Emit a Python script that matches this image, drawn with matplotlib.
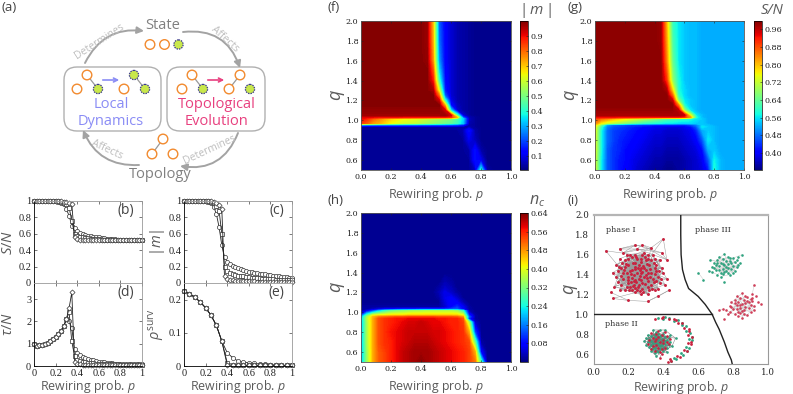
import matplotlib
matplotlib.use("Agg")
import matplotlib.pyplot as plt
from matplotlib.cm import ScalarMappable
from matplotlib.colors import Normalize
from matplotlib.patches import Circle, FancyBboxPatch, FancyArrowPatch
from matplotlib.ticker import FormatStrFormatter
import numpy as np

plt.rcParams['font.family'] = ['Open Sans', 'DejaVu Sans']
plt.rcParams['mathtext.fontset'] = 'custom'
plt.rcParams['mathtext.it'] = 'Open Sans:italic'
plt.rcParams['mathtext.rm'] = 'Open Sans'

W, H = 793, 394
GREY = '#5a5a5a'

# ---- line panels
p_line = [i / 40 for i in range(41)]
p_surv = [i / 20 for i in range(21)]

S_circle = [1]*8 + [.995, .99, .98, .96, .90, .82, .70, .665, .63, .61, .595, .585, .575, .57, .565, .56, .555, .55, .545, .54, .54, .535, .535, .53, .53, .53, .525, .525, .525, .52, .52, .52, .52]
S_square = [1]*9 + [.995, .99, .98, .96, .92, .76, .60, .575, .565, .555, .55, .545, .54, .54, .535, .535, .53, .53, .53, .525, .525, .525, .525] + [.52]*9
S_diamond = [1]*10 + [.995, .99, .985, .975, .96, .56, .535, .53, .53, .525, .525, .525] + [.52]*19

m_circle = [1]*8 + [.995, .99, .97, .93, .84, .68, .46, .32, .26, .23, .21, .195, .18, .17, .16, .15, .14, .13, .125, .12, .115, .11, .105, .10, .095, .09, .085, .08, .075, .07, .07, .065, .06]
m_square = [1]*9 + [.995, .99, .98, .94, .88, .60, .20, .15, .125, .11, .10, .09, .085, .08, .075, .07, .065, .06, .058, .055, .052, .05, .048, .046, .044, .042, .04, .04, .038, .036, .034, .033]
m_diamond = [1]*10 + [.995, .99, .97, .95, .90, .08, .05, .04, .035, .03, .028, .026, .024, .022, .02, .02, .02, .018, .018, .018, .016, .016, .016, .015, .015, .015, .015, .015, .015, .015, .015]

tau_base = [1.0, .9, .92, .95, 1.0, 1.05, 1.12, 1.2, 1.3, 1.42, 1.58, 1.78, 2.1]
tau_circle = tau_base + [2.0, 1.7, .75, .6, .5, .42, .37, .32, .28, .25, .22, .2, .18, .16, .145, .13, .12, .11, .105, .1, .095, .09, .085, .08, .078, .075, .072, .07]
tau_square = tau_base + [2.4, 1.1, .45, .28, .23, .2, .17, .15, .13, .12, .11, .1, .09, .085, .08, .075, .072, .07, .068, .065, .062, .06, .058, .055, .054, .052, .05, .05]
tau_diamond = tau_base + [2.6, 3.3, .2, .08, .07, .06, .055, .05, .05, .045, .045, .04, .04, .04, .04, .04, .04, .04, .04, .04, .04, .04, .04, .04, .04, .04, .04, .04]

surv_base = [.225, .217, .207, .193, .175, .153, .122, .075]
surv_circle = surv_base + [.04, .025, .015, .012, .01, .008, .006, .005, .004, .003, .002, .002, .002]
surv_square = surv_base + [.01, .004, .003, .003, .002, .002, .002, .002, .002, .002, .002, .002, .002]
surv_diamond = surv_base + [.003, .002, .002, .002, .002, .002, .002, .002, .002, .002, .002, .002, .002]

# ---- heatmaps, hundredths, rows follow heat_q, columns follow heat_p
heat_p = [i * 0.04 for i in range(26)]
heat_q = [2.0, 1.8, 1.6, 1.5, 1.4, 1.3, 1.25, 1.2, 1.15, 1.1, 1.05, 1.03, 1.015, .97, .955, .935, .9, .8, .7, .6, .5]

m_map = [
    [99]*11 + [97, 70, 22, 12, 8, 5, 4, 3, 2, 2, 2, 2, 2, 2, 2],
    [99]*11 + [97, 72, 24, 12, 8, 5, 4, 3, 2, 2, 2, 2, 2, 2, 2],
    [99]*11 + [98, 75, 28, 12, 8, 5, 4, 3, 2, 2, 2, 2, 2, 2, 2],
    [99]*12 + [82, 34, 13, 8, 5, 4, 3, 2, 2, 2, 2, 2, 2, 2],
    [99]*12 + [88, 42, 14, 8, 5, 4, 3, 2, 2, 2, 2, 2, 2, 2],
    [99]*12 + [96, 62, 16, 8, 5, 4, 3, 2, 2, 2, 2, 2, 2, 2],
    [99]*13 + [78, 22, 8, 5, 4, 3, 2, 2, 2, 2, 2, 2, 2],
    [99]*13 + [92, 40, 10, 5, 4, 3, 2, 2, 2, 2, 2, 2, 2],
    [99]*14 + [72, 14, 6, 4, 3, 2, 2, 2, 2, 2, 2, 2],
    [98]*14 + [92, 35, 8, 4, 3, 2, 2, 2, 2, 2, 2, 2],
    [97]*15 + [92, 45, 8, 3, 2, 2, 2, 2, 2, 2, 2],
    [90, 90, 89, 88, 88, 88, 88, 87, 87, 87, 87, 87, 87, 87, 87, 85, 70, 20, 5, 3, 2, 2, 2, 2, 2, 2],
    [90, 86, 80, 76, 72, 68, 66, 64, 63, 62, 60, 58, 56, 54, 52, 50, 44, 34, 6, 3, 2, 2, 2, 2, 2, 2],
    [84, 80, 74, 72, 68, 64, 62, 60, 59, 58, 56, 54, 52, 50, 48, 46, 42, 32, 5, 3, 2, 2, 2, 2, 2, 2],
    [30, 28, 27, 26, 26, 25, 25, 24, 24, 24, 23, 23, 22, 22, 22, 21, 20, 16, 4, 3, 2, 2, 2, 2, 2, 2],
    [4]*18 + [5, 3, 2, 2, 2, 2, 2, 2],
    [3]*17 + [5, 14, 4, 2, 2, 2, 2, 2, 2],
    [3]*18 + [10, 6, 2, 2, 2, 2, 2, 2],
    [3]*18 + [4, 14, 4, 2, 2, 2, 2, 2],
    [3]*19 + [14, 10, 2, 2, 2, 2, 2],
    [3]*19 + [6, 38, 4, 2, 2, 2, 2],
]

S_map = [
    [99]*11 + [98, 80, 60, 56, 54, 53, 53, 52, 52, 52, 52, 52, 52, 52, 52],
    [99]*11 + [98, 82, 62, 56, 54, 53, 53, 52, 52, 52, 52, 52, 52, 52, 52],
    [99]*11 + [99, 84, 64, 56, 54, 53, 53, 52, 52, 52, 52, 52, 52, 52, 52],
    [99]*12 + [87, 66, 57, 54, 53, 53, 52, 52, 52, 52, 52, 52, 52, 52],
    [99]*12 + [90, 68, 58, 54, 53, 53, 52, 52, 52, 52, 52, 52, 52, 52],
    [99]*12 + [97, 78, 58, 55, 53, 53, 52, 52, 52, 52, 52, 52, 52, 52],
    [99]*13 + [86, 60, 55, 53, 53, 52, 52, 52, 52, 52, 52, 52, 52],
    [99]*13 + [95, 66, 56, 54, 53, 52, 52, 52, 52, 52, 52, 52, 52],
    [99]*14 + [84, 58, 54, 53, 52, 52, 52, 52, 52, 52, 52, 52],
    [98]*14 + [96, 68, 56, 53, 52, 52, 52, 52, 52, 52, 52, 52],
    [97]*15 + [95, 74, 56, 53, 52, 52, 52, 52, 52, 52, 52],
    [92, 92, 92, 92, 91, 91, 91, 91, 91, 91, 91, 91, 91, 91, 91, 89, 82, 58, 53, 52, 52, 52, 52, 52, 52, 52],
    [88, 85, 83, 80, 78, 76, 74, 72, 70, 68, 66, 64, 62, 61, 60, 59, 58, 56, 54, 52, 52, 52, 52, 52, 52, 52],
    [84, 76, 72, 70, 68, 66, 64, 62, 60, 59, 58, 57, 56, 56, 55, 55, 55, 54, 54, 52, 52, 52, 52, 52, 52, 52],
    [78, 66, 52, 48, 47, 46, 45, 45, 44, 44, 43, 43, 43, 43, 43, 43, 45, 49, 54, 53, 52, 52, 52, 52, 52, 52],
    [76, 60, 49, 46, 45, 44, 43, 42, 41, 40, 39, 39, 38, 38, 38, 39, 41, 46, 56, 54, 53, 52, 52, 52, 52, 52],
    [75, 58, 48, 45, 44, 43, 42, 41, 40, 39, 38, 38, 37, 37, 37, 38, 39, 43, 52, 54, 53, 52, 52, 52, 52, 52],
    [74, 58, 48, 45, 43, 42, 41, 40, 39, 38, 37, 37, 36, 36, 36, 37, 38, 40, 46, 56, 53, 52, 52, 52, 52, 52],
    [74, 58, 47, 44, 43, 41, 40, 39, 38, 37, 36, 36, 35, 35, 35, 36, 37, 38, 41, 52, 54, 52, 52, 52, 52, 52],
    [73, 57, 47, 44, 42, 41, 39, 38, 37, 36, 35, 35, 34, 34, 34, 35, 36, 37, 39, 46, 57, 53, 52, 52, 52, 52],
    [73, 57, 47, 44, 42, 40, 39, 37, 36, 35, 34, 34, 33, 33, 34, 35, 36, 37, 38, 42, 58, 53, 52, 52, 52, 52],
]

nc_map = [
    [1]*26,
    [1]*26,
    [1]*26,
    [1]*26,
    [1]*26,
    [1]*14 + [3, 2] + [1]*10,
    [1]*13 + [2, 4, 3] + [1]*10,
    [1]*13 + [3, 6, 4, 2] + [1]*9,
    [1]*13 + [2, 6, 7, 4] + [1]*9,
    [1]*14 + [5, 8, 7, 3] + [1]*8,
    [2]*14 + [4, 8, 11, 7, 2] + [1]*7,
    [1, 2, 4, 6, 8, 9, 10, 11, 11, 11, 12, 12, 12, 12, 12, 13, 14, 8, 2] + [1]*7,
    [2, 6, 12, 20, 26, 30, 32, 33, 34, 35, 35, 36, 36, 36, 36, 36, 34, 26, 3] + [1]*7,
    [10, 28, 40, 42, 42, 43, 43, 43, 44, 44, 44, 44, 44, 44, 44, 44, 44, 40, 10, 2] + [1]*6,
    [17, 34, 45, 49, 50, 51, 52, 52, 53, 53, 53, 53, 53, 52, 52, 52, 51, 47, 14, 2] + [1]*6,
    [18, 36, 46, 53, 55, 56, 57, 57, 58, 58, 58, 58, 58, 57, 57, 56, 56, 52, 10, 2] + [1]*6,
    [18, 35, 46, 53, 55, 56, 57, 58, 59, 59, 60, 59, 58, 58, 57, 56, 56, 54, 35, 4] + [1]*6,
    [18, 35, 46, 53, 55, 57, 58, 59, 60, 60, 60, 60, 59, 59, 58, 57, 56, 55, 46, 12] + [1]*6,
    [18, 35, 46, 53, 55, 56, 58, 59, 60, 61, 61, 61, 60, 59, 58, 57, 56, 55, 53, 30, 2] + [1]*5,
    [18, 34, 46, 52, 54, 56, 58, 60, 61, 62, 62, 62, 61, 60, 59, 58, 57, 56, 54, 46, 8] + [1]*5,
    [18, 34, 46, 52, 54, 56, 58, 60, 61, 62, 63, 62, 61, 60, 59, 58, 57, 56, 54, 50, 28] + [1]*5,
]

# ---- phase diagram
bound_p = [.5, .5, .502, .51, .525, .545, .6, .64, .68, .70, .72, .75, .77, .79, .795]
bound_q = [2.0, 1.8, 1.6, 1.45, 1.35, 1.26, 1.18, 1.1, 1.0, .92, .85, .72, .62, .54, .5]

net_one = [(.25, 1.42), (.18, 1.55), (.31, 1.28), (.22, 1.24), (.36, 1.5), (.13, 1.38), (.28, 1.6), (.2, 1.32), (.33, 1.42), (.24, 1.52),
           (.16, 1.47), (.38, 1.32), (.27, 1.2), (.3, 1.55), (.19, 1.42), (.35, 1.25), (.23, 1.34), (.12, 1.28), (.29, 1.38), (.21, 1.6),
           (.34, 1.6), (.26, 1.3), (.15, 1.56), (.4, 1.42), (.24, 1.22), (.32, 1.5), (.18, 1.25), (.37, 1.38), (.27, 1.47), (.14, 1.44),
           (.22, 1.45), (.31, 1.34), (.2, 1.5), (.42, 1.36), (.28, 1.26), (.17, 1.36), (.35, 1.56), (.25, 1.56), (.11, 1.42), (.33, 1.3),
           (.23, 1.4), (.3, 1.45), (.19, 1.6), (.39, 1.47), (.26, 1.36), (.16, 1.3), (.36, 1.44), (.29, 1.62), (.21, 1.28), (.41, 1.3),
           (.24, 1.48), (.32, 1.24), (.18, 1.48), (.27, 1.42), (.13, 1.5), (.34, 1.36), (.22, 1.58), (.31, 1.6), (.28, 1.32), (.2, 1.38),
           (.37, 1.26), (.25, 1.25), (.15, 1.24), (.3, 1.4), (.23, 1.3), (.35, 1.47), (.26, 1.5), (.17, 1.42), (.33, 1.55), (.29, 1.47),
           (.19, 1.28), (.24, 1.35), (.38, 1.55), (.21, 1.44), (.31, 1.2), (.27, 1.56), (.14, 1.33), (.36, 1.34), (.22, 1.37), (.28, 1.43),
           (.235, 1.46), (.265, 1.39), (.215, 1.41), (.285, 1.49), (.305, 1.37), (.245, 1.33), (.195, 1.35), (.325, 1.46), (.255, 1.28), (.225, 1.52),
           (.295, 1.31), (.175, 1.45), (.345, 1.33), (.275, 1.53), (.205, 1.25), (.315, 1.42), (.235, 1.27), (.155, 1.39), (.355, 1.41), (.265, 1.45),
           (.185, 1.51), (.335, 1.26), (.245, 1.58), (.305, 1.51), (.215, 1.33), (.275, 1.35), (.165, 1.52), (.375, 1.44), (.225, 1.29), (.295, 1.58),
           (.255, 1.47), (.325, 1.38), (.195, 1.56), (.345, 1.52), (.285, 1.22), (.145, 1.48), (.385, 1.36), (.235, 1.6), (.265, 1.23), (.315, 1.56),
           (.07, 1.64), (.40, 1.76), (.33, 1.67), (.11, 1.16), (.2, 1.14), (.28, 1.7), (.43, 1.24), (.1, 1.22), (.42, 1.55), (.17, 1.62),
           (.25, 1.66), (.31, 1.13), (.15, 1.66), (.37, 1.18), (.24, 1.7), (.39, 1.62)]

net_green = [(.75, 1.5), (.71, 1.55), (.79, 1.46), (.73, 1.42), (.78, 1.57), (.68, 1.48), (.76, 1.44), (.81, 1.53), (.7, 1.45), (.74, 1.56),
             (.77, 1.51), (.72, 1.49), (.8, 1.42), (.75, 1.61), (.69, 1.52), (.83, 1.58), (.73, 1.38), (.78, 1.4), (.66, 1.44), (.76, 1.54),
             (.82, 1.48), (.71, 1.4), (.85, 1.6), (.74, 1.46), (.79, 1.52), (.72, 1.58), (.77, 1.47), (.63, 1.35), (.6, 1.42), (.75, 1.33),
             (.8, 1.57), (.7, 1.5), (.84, 1.52), (.77, 1.42), (.73, 1.52), (.67, 1.55), (.81, 1.44), (.76, 1.48), (.74, 1.51), (.78, 1.54),
             (.72, 1.45), (.69, 1.47), (.83, 1.5), (.75, 1.43), (.8, 1.49), (.71, 1.52), (.77, 1.58), (.74, 1.41), (.82, 1.55), (.68, 1.43)]

net_red = [(.85, 1.1), (.81, 1.14), (.89, 1.06), (.83, 1.02), (.88, 1.17), (.78, 1.08), (.86, 1.04), (.91, 1.13), (.8, 1.05), (.84, 1.16),
           (.87, 1.11), (.82, 1.09), (.9, 1.02), (.85, 1.21), (.79, 1.12), (.93, 1.18), (.83, .98), (.88, .99), (.76, 1.04), (.86, 1.14),
           (.92, 1.08), (.81, 1.0), (.96, 1.1), (.84, 1.06), (.89, 1.12), (.82, 1.18), (.87, 1.07), (.74, 1.05), (.72, 1.04), (.85, .96),
           (.91, 1.2), (.92, 1.3), (.94, 1.12), (.75, .95), (.83, 1.12), (.77, 1.0), (.9, 1.15), (.86, 1.0), (.84, 1.09), (.88, 1.13),
           (.82, 1.05), (.79, 1.07), (.92, 1.04), (.85, 1.03), (.9, 1.09), (.81, 1.11), (.87, 1.18), (.84, 1.01), (.91, 1.16), (.78, 1.02)]

net_two_green = [(.37, .74), (.33, .78), (.41, .7), (.35, .66), (.4, .8), (.31, .72), (.38, .68), (.43, .76), (.32, .67), (.36, .82),
                 (.39, .75), (.34, .71), (.42, .66), (.37, .62), (.3, .76), (.44, .72), (.35, .77), (.4, .63), (.33, .63), (.38, .78),
                 (.45, .68), (.36, .58), (.47, .76), (.41, .84), (.34, .84), (.36, .71), (.39, .69), (.35, .75), (.42, .74), (.33, .69),
                 (.38, .65), (.31, .79), (.37, .8), (.41, .77), (.34, .65), (.4, .66), (.36, .63), (.44, .79), (.32, .75), (.43, .69),
                 (.3, .69), (.38, .84), (.35, .61), (.42, .62), (.29, .73), (.37, .7), (.39, .72), (.35, .8), (.33, .73), (.41, .73)]
net_two_red = [(.38, .72), (.34, .76), (.42, .78), (.36, .69), (.4, .74), (.32, .74), (.37, .83), (.41, .66), (.35, .63), (.39, .65),
               (.43, .7), (.33, .81), (.37, .77), (.39, .6), (.38, .56), (.35, .73), (.41, .82), (.36, .8), (.34, .68), (.4, .71),
               (.37, .66), (.33, .65), (.42, .72), (.39, .79), (.36, .75), (.31, .7), (.44, .75), (.38, .62)]
arc_green = [(.37, .965), (.43, .965), (.485, .94), (.53, .885), (.555, .815), (.565, .74), (.55, .665), (.515, .595), (.47, .55),
             (.40, .955), (.46, .935), (.505, .89), (.53, .83), (.545, .75), (.53, .675), (.50, .61), (.46, .565), (.41, .97), (.51, .915), (.565, .775), (.535, .63), (.445, .53)]
arc_red = [(.35, .95), (.40, .97), (.46, .955), (.51, .915), (.545, .85), (.565, .775), (.56, .70), (.535, .63), (.495, .57), (.445, .53), (.425, .52),
           (.43, .95), (.485, .915), (.52, .86), (.54, .79), (.54, .71), (.52, .645), (.48, .585), (.44, .55), (.39, .965), (.55, .83), (.56, .72), (.475, .94)]

fig = plt.figure(figsize=(W / 100, H / 100), dpi=100)


def box(x0, y0, x1, y1):
    return [x0 / W, 1 - y1 / H, (x1 - x0) / W, (y1 - y0) / H]


# canvas in pixel units for the schematic and the loose labels
bg = fig.add_axes([0, 0, 1, 1], zorder=-1)
bg.set_xlim(0, W)
bg.set_ylim(H, 0)
bg.axis('off')


def node(x, y, green=False):
    if green:
        bg.add_patch(Circle((x, y), 4.6, fc='#c9e84b', ec='#3c3a8f', lw=0.9, ls=(0, (1.2, 0.8)), zorder=3))
    else:
        bg.add_patch(Circle((x, y), 4.8, fc='white', ec='#f28a2e', lw=1.0, zorder=3))


def link(x0, y0, x1, y1):
    bg.plot([x0, x1], [y0, y1], color='#999999', lw=0.9, zorder=2)


def curved(x0, y0, x1, y1, rad):
    bg.add_patch(FancyArrowPatch((x0, y0), (x1, y1), connectionstyle='arc3,rad=%g' % rad, arrowstyle='-|>',
                                 mutation_scale=10, color='#a3a3a3', lw=1.4, zorder=1, shrinkA=0, shrinkB=0))


for x0, x1 in [(64, 161), (167, 265)]:
    bg.add_patch(FancyBboxPatch((x0 + 13, 67 + 13), x1 - x0 - 26, 64 - 26, boxstyle='round,pad=13',
                                fc='white', ec='#b0b0b0', lw=1.0, zorder=1))

for x, y, g in [(150, 44.5, 0), (164.5, 44.5, 0), (178.5, 44.5, 1), (87, 75, 0), (77, 89, 0), (98, 89, 1),
                (134, 75, 1), (124, 89, 0), (145, 89, 1), (192, 75, 0), (182, 89, 0), (203, 89, 1),
                (240, 75, 0), (229, 89, 0), (250, 89, 1), (163, 139, 0), (152, 154, 0), (173, 154, 0)]:
    node(x, y, g)
link(87, 75, 98, 89)
link(134, 75, 145, 89)
link(192, 75, 203, 89)
link(240, 75, 229, 89)
link(163, 139, 152, 154)

bg.annotate('', xy=(122, 80), xytext=(100, 80), arrowprops=dict(arrowstyle='->', color='#8a8cf5', lw=1.2, mutation_scale=7))
bg.annotate('', xy=(227, 80), xytext=(205, 80), arrowprops=dict(arrowstyle='->', color='#e8407f', lw=1.2, mutation_scale=7))

curved(85, 63, 144, 31, -0.35)
curved(183, 32, 240, 68, -0.4)
curved(238, 133, 180, 166, -0.4)
curved(139, 165, 83, 130, -0.35)

bg.text(163, 25, 'State', color='#808080', fontsize=10.5, ha='center', va='center')
bg.text(160, 174, 'Topology', color='#808080', fontsize=10.5, ha='center', va='center')
bg.text(111, 104, 'Local', color='#8a8cf5', fontsize=10.5, ha='center', va='center')
bg.text(111, 121, 'Dynamics', color='#8a8cf5', fontsize=10.5, ha='center', va='center')
bg.text(217, 104, 'Topological', color='#e8407f', fontsize=10.5, ha='center', va='center')
bg.text(217, 121, 'Evolution', color='#e8407f', fontsize=10.5, ha='center', va='center')
bg.text(99, 41, 'Determines', color='#bdbdbd', fontsize=7.5, ha='center', va='center', rotation=33)
bg.text(225, 39, 'Affects', color='#bdbdbd', fontsize=7.5, ha='center', va='center', rotation=-42)
bg.text(210, 150, 'Determines', color='#bdbdbd', fontsize=7.5, ha='center', va='center', rotation=25)
bg.text(107, 150, 'Affects', color='#bdbdbd', fontsize=7.5, ha='center', va='center', rotation=-25)

for txt, x, y in [('(a)', 2, 7), ('(f)', 327, 7), ('(g)', 567, 7), ('(h)', 327, 200), ('(i)', 567, 200)]:
    bg.text(x, y, txt, color='#444444', fontsize=9.5, ha='left', va='center')
bg.text(535, 10, r'$|\,m\,|$', color=GREY, fontsize=11, ha='center', va='center')
bg.text(772, 10, 'S/N', color=GREY, fontsize=10.5, style='italic', ha='center', va='center')
bg.text(537, 201, '$n_c$', color=GREY, fontsize=11.5, ha='center', va='center')


def line_panel(rect, xs, series, ylabel, yticks, ylabels, ymax, tag, bottom, label_x):
    ax = fig.add_axes(box(*rect))
    for vals, mk in zip(series, ['o', 's', 'D']):
        ax.plot(xs, vals, color='#222222', lw=0.6, marker=mk, ms=3.0 if mk != 'D' else 2.6, mfc='white', mec='#333333', mew=0.5, clip_on=False)
    ax.set_xlim(0, 1)
    ax.set_ylim(0, ymax)
    ax.set_xticks([0, .2, .4, .6, .8, 1])
    ax.set_yticks(yticks)
    ax.set_yticklabels(ylabels, family='Liberation Serif', fontsize=7.5, color='#222222')
    if bottom:
        ax.set_xticklabels(['0', '0.2', '0.4', '0.6', '0.8', '1'], family='Liberation Serif', fontsize=7.5, color='#222222')
        ax.set_xlabel('Rewiring prob. $p$', color=GREY, fontsize=8.9, labelpad=0)
    else:
        ax.tick_params(axis='x', labelbottom=False)
    ax.tick_params(direction='in', length=2, width=0.5, pad=2, top=True, right=True, color='#444444')
    ax.text(0.93, 0.88, tag, transform=ax.transAxes, color='#444444', fontsize=10, ha='right', va='center')
    for s in ax.spines.values():
        s.set_linewidth(0.6)
    ax.spines['top'].set_color('#999999')
    ax.spines['right'].set_color('#999999')
    ax.set_ylabel(ylabel, color=GREY, fontsize=10.5)
    ax.yaxis.set_label_coords(label_x, .5)
    return ax


line_panel((34, 201, 142, 283), p_line, [S_circle, S_square, S_diamond], '$S/N$',
           [0, .2, .4, .6, .8, 1], ['0', '0.2', '0.4', '0.6', '0.8', '1'], 1, '(b)', False, -.17)
line_panel((34, 283, 142, 366), p_line, [tau_circle, tau_square, tau_diamond], r'$\tau/N$',
           [0, 1, 2, 3], ['0', '1', '2', '3'], 3.72, '(d)', True, -.17)
line_panel((184, 201, 292, 283), p_line, [m_circle, m_square, m_diamond], '$|m|$',
           [0, .2, .4, .6, .8, 1], ['0', '0.2', '0.4', '0.6', '0.8', '1'], 1, '(c)', False, -.16)
line_panel((184, 283, 292, 366), p_surv, [surv_circle, surv_square, surv_diamond], r'$\rho^{\mathrm{surv}}$',
           [0, .1, .2], ['0', '0.1', '0.2'], .25, '(e)', True, -.16)


def heat_panel(rect, cbar_rect, values, vmin, vmax, ticks, fmt, label_x):
    ax = fig.add_axes(box(*rect))
    grid = np.array(values) / 100
    levels = np.linspace(vmin, vmax, 200)
    ax.contourf(heat_p, heat_q, grid, levels=levels, cmap='jet', extend='both')
    ax.set_xlim(0, 1)
    ax.set_ylim(.5, 2)
    ax.set_xticks([0, .2, .4, .6, .8, 1])
    ax.set_yticks([.6, .8, 1, 1.2, 1.4, 1.6, 1.8, 2])
    ax.xaxis.set_major_formatter(FormatStrFormatter('%.1f'))
    ax.yaxis.set_major_formatter(FormatStrFormatter('%.1f'))
    for lab in ax.get_xticklabels() + ax.get_yticklabels():
        lab.set_family('DejaVu Serif')
        lab.set_fontsize(5.8)
    ax.tick_params(length=1.5, width=0.4, pad=2, direction='in', top=True, right=True, colors='#222222')
    ax.set_xlabel('Rewiring prob. $p$', color=GREY, fontsize=8.9, labelpad=3.5)
    ax.set_ylabel('$q$', color=GREY, fontsize=13)
    ax.yaxis.set_label_coords(label_x, .5)
    for s in ax.spines.values():
        s.set_linewidth(0.6)
        s.set_color('#555555')
    cax = fig.add_axes(box(*cbar_rect))
    cb = fig.colorbar(ScalarMappable(Normalize(vmin, vmax), 'jet'), cax=cax)
    cb.set_ticks(ticks)
    cb.ax.yaxis.set_major_formatter(FormatStrFormatter(fmt))
    cb.ax.minorticks_off()
    cb.ax.tick_params(length=1.5, width=0.4, pad=2, direction='in', labelsize=5.8, colors='#222222')
    for lab in cb.ax.get_yticklabels():
        lab.set_family('DejaVu Serif')
    cb.outline.set_linewidth(0.5)


m_ticks = [.1, .2, .3, .4, .5, .6, .7, .8, .9]
S_ticks = [.40, .48, .56, .64, .72, .80, .88, .96]
nc_ticks = [.08, .16, .24, .32, .40, .48, .56, .64]
heat_panel((361, 21, 511, 170), (520, 21, 528, 170), m_map, .007, .998, m_ticks, '%.1f', -.095)
heat_panel((595, 21, 744, 170), (754, 21, 762, 170), S_map, .323, .997, S_ticks, '%.2f', -.095)
heat_panel((361, 213, 511, 362), (520, 213, 528, 362), nc_map, 0, .64, nc_ticks, '%.2f', -.095)

# phase diagram with small networks
ax = fig.add_axes(box(593.5, 215, 768, 364))


def network(points, color, steps, limit, edge, size=3.5):
    px = [c[0] for c in points]
    py = [c[1] for c in points]
    for step in steps:
        for a, b in zip(points, points[step:]):
            if abs(a[0] - b[0]) < limit and abs(a[1] - b[1]) < 1.5 * limit:
                ax.plot([a[0], b[0]], [a[1], b[1]], color=edge, lw=0.35, zorder=1)
    ax.scatter(px, py, s=size, c=color, linewidths=0, zorder=2)


network(net_one, '#c9223f', (1, 2, 3, 5, 7), .17, '#999999', 4.5)
network(net_green, '#2fa37f', (1, 3), .09, '#c8c8c8')
network(net_red, '#d0405a', (1, 3), .09, '#c8c8c8')
network(net_two_green, '#2fa37f', (1, 2, 3), .1, '#777777')
network(net_two_red, '#c9223f', (1, 2), .1, '#777777')
ax.plot([c[0] for c in arc_green], [c[1] for c in arc_green], 'o', ms=2.0, mew=0, color='#2fa37f', zorder=2)
ax.plot([c[0] for c in arc_red], [c[1] for c in arc_red], 'o', ms=2.0, mew=0, color='#c9223f', zorder=2)
ax.plot(bound_p, bound_q, color='#222222', lw=1.0, zorder=3)
ax.plot([0, .68], [1, 1], color='#222222', lw=1.0, zorder=3)
ax.set_xlim(0, 1)
ax.set_ylim(.5, 2)
ax.set_xticks([0, .2, .4, .6, .8, 1])
ax.set_yticks([.6, .8, 1, 1.2, 1.4, 1.6, 1.8, 2])
ax.xaxis.set_major_formatter(FormatStrFormatter('%.1f'))
ax.yaxis.set_major_formatter(FormatStrFormatter('%.1f'))
for lab in ax.get_xticklabels() + ax.get_yticklabels():
    lab.set_family('DejaVu Serif')
    lab.set_fontsize(6.2)
ax.tick_params(length=0, pad=3, colors='#222222')
ax.set_xlabel('Rewiring prob. $p$', color=GREY, fontsize=8.9, labelpad=1)
ax.set_ylabel('$q$', color=GREY, fontsize=13)
ax.yaxis.set_label_coords(-.08, .5)
for s in ax.spines.values():
    s.set_linewidth(0.8)
    s.set_color('#999999')
ax.spines['top'].set_linewidth(1.6)
ax.spines['top'].set_color('#b5b5b5')
for txt, x, y in [('phase I', .07, 1.85), ('phase III', .58, 1.85), ('phase II', .065, .9)]:
    ax.text(x, y, txt, family='DejaVu Serif', fontsize=5.8, color='#333333', va='center')

fig.savefig('out.png', dpi=100)
